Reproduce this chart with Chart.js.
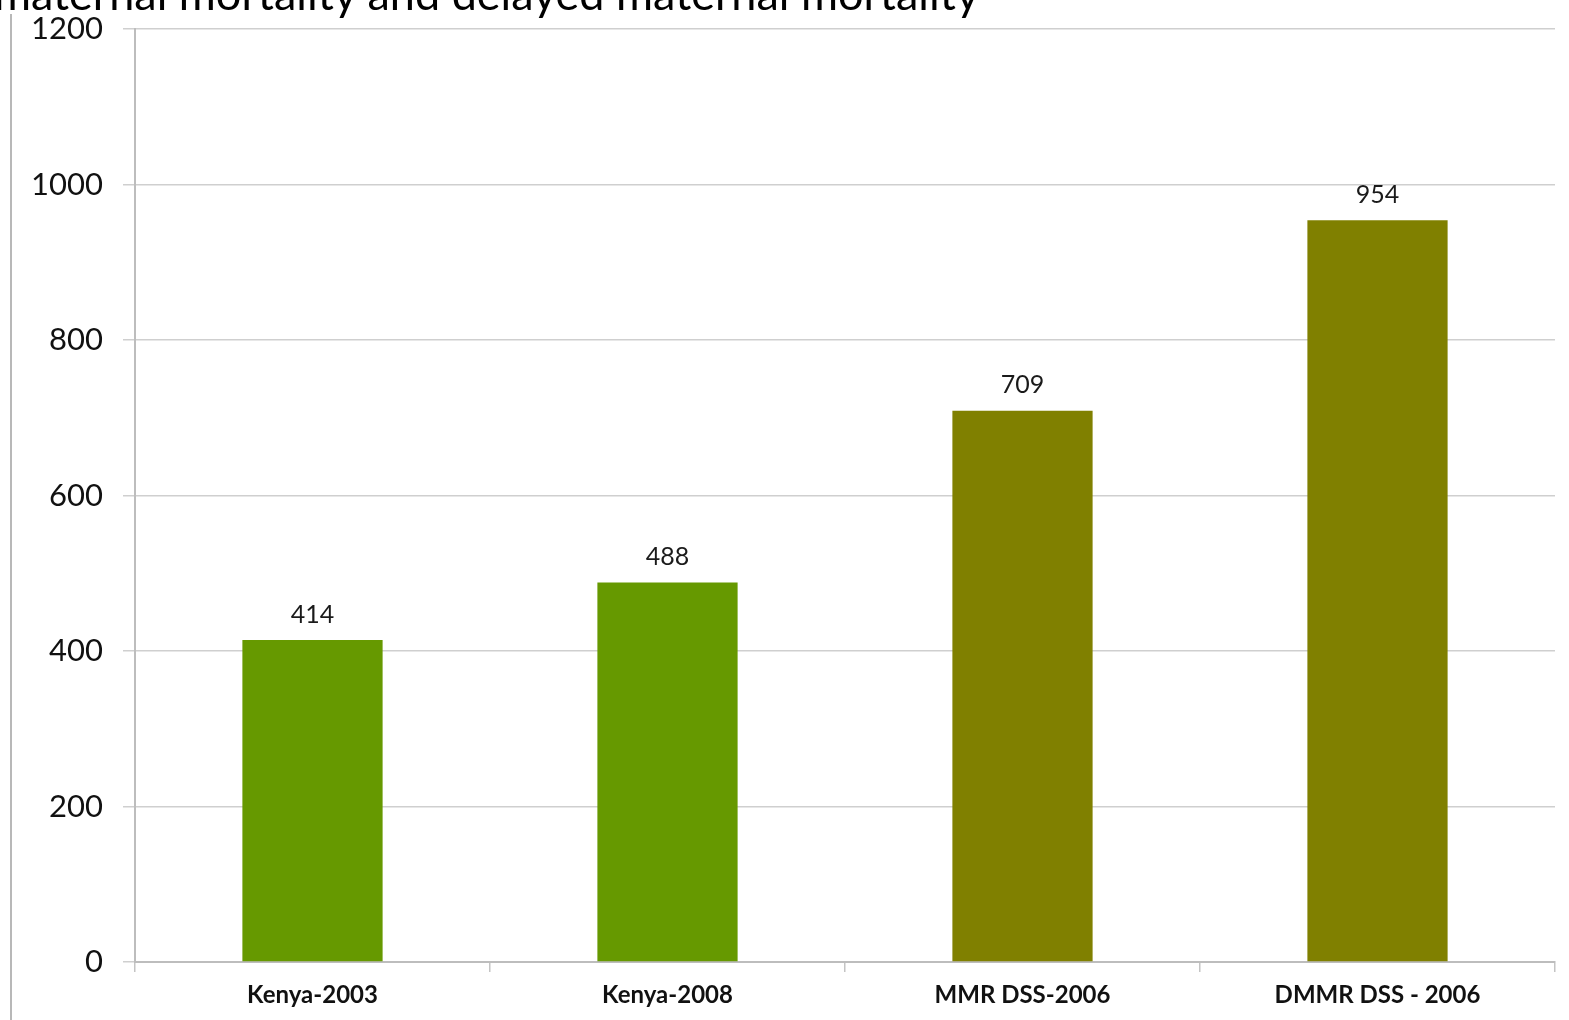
<!DOCTYPE html>
<html>
<head>
<meta charset="utf-8">
<script src="https://cdn.jsdelivr.net/npm/chart.js@4/dist/chart.umd.min.js"></script>
<style>
  html, body { margin: 0; padding: 0; background: #fff; overflow: hidden; }
  #wrap { position: relative; width: 1569px; height: 1020px; }
  #title {
    position: absolute; left: -6px; top: -34px;
    font-family: Lato, sans-serif; font-size: 45px; color: #000;
    white-space: nowrap;
  }
  #edge { position: absolute; left: 10px; top: 14px; bottom: 0; width: 2px; background: #b8b8b8; }
  canvas { position: absolute; left: 0; top: 0; }
</style>
</head>
<body>
<div id="wrap">
  <canvas id="chart" width="1569" height="1020"></canvas>
  <div id="edge"></div>
  <div id="title">maternal mortality and delayed maternal mortality</div>
</div>
<script>
const categories = ['Kenya-2003', 'Kenya-2008', 'MMR DSS-2006', 'DMMR DSS - 2006'];
const values = [414, 488, 709, 954];
const barColors = ['#669900', '#669900', '#808000', '#808000'];
const yTicks = [0, 200, 400, 600, 800, 1000, 1200];

// draws the number above each bar
const valueLabels = {
    id: 'valueLabels',
    afterDatasetsDraw(chart) {
        const ctx = chart.ctx;
        const meta = chart.getDatasetMeta(0);
        ctx.save();
        ctx.font = '25px Lato, sans-serif';
        ctx.fillStyle = '#1a1a1a';
        ctx.textAlign = 'center';
        ctx.textBaseline = 'bottom';
        meta.data.forEach((bar, i) => {
            ctx.fillText(values[i], bar.x, bar.y - 13);
        });
        ctx.restore();
    }
};

new Chart(document.getElementById('chart'), {
    type: 'bar',
    data: {
        labels: categories,
        datasets: [{
            data: values,
            backgroundColor: barColors,
            barPercentage: 1,
            categoryPercentage: 0.395
        }]
    },
    options: {
        responsive: false,
        animation: false,
        layout: { padding: { top: 29, right: 14, bottom: 0, left: 0 } },
        plugins: { legend: { display: false }, tooltip: { enabled: false } },
        scales: {
            x: {
                offset: true,
                grid: {
                    drawOnChartArea: false,
                    offset: true,
                    tickLength: 10,
                    color: '#c4c4c4',
                    lineWidth: 1.5
                },
                border: { color: '#bdbdbd', width: 2 },
                ticks: {
                    color: '#111',
                    padding: 9,
                    font: { family: 'Lato, sans-serif', size: 24, weight: 'bold' }
                },
                afterFit(axis) { axis.height = 58; }
            },
            y: {
                min: 0,
                max: 1200,
                afterBuildTicks(axis) { axis.ticks = yTicks.map(v => ({ value: v })); },
                grid: { color: '#cfcfcf', lineWidth: 1.5, tickLength: 12 },
                border: { color: '#bdbdbd', width: 2 },
                ticks: {
                    color: '#111',
                    padding: 20,
                    font: { family: 'Lato, sans-serif', size: 31 },
                    callback: v => String(v)
                },
                afterFit(axis) {
                    axis.width = 135;
                    axis.paddingTop = 0;
                    axis.paddingBottom = 0;
                }
            }
        }
    },
    plugins: [valueLabels]
});
</script>
</body>
</html>
